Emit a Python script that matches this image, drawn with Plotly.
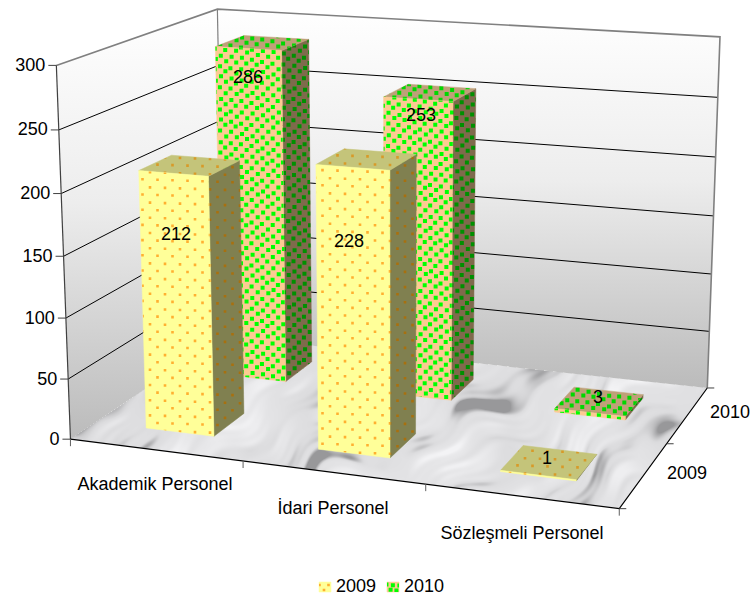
import base64, struct, zlib
import numpy as np
import plotly.graph_objects as go

# ---------- data ----------
categories = ["Akademik Personel", "İdari Personel", "Sözleşmeli Personel"]
series_names = ["2009", "2010"]
values_2009 = [212, 228, 1]
values_2010 = [286, 253, 3]
value_ticks = [0, 50, 100, 150, 200, 250, 300]

# hand placed data-label anchors in the reference (pixels)
label_x_2009 = [176, 349, 547]
label_y_2009 = [235, 242, 459]
label_x_2010 = [248, 421, 598]
label_y_2010 = [78, 116, 398]

W, H = 754, 599
FONT = "Liberation Sans"
FS = 18
BAR_LO, BAR_HI = 0.3, 0.7

# ---------- perspective: camera fitted to the frame corners of the chart ----------
frame_world = [(0, 0, 0), (0, 0, 300), (0, 2, 300), (0, 2, 0), (3, 2, 300), (3, 2, 0), (3, 0, 0)]
frame_pixel = [(72, 436), (55, 65.5), (219, 8), (222, 340), (719.5, 38), (708, 384), (619, 512)]
A, b = [], []
for (X, Y, Z), (u, v) in zip(frame_world, frame_pixel):
    Z = Z / 300
    A.append([X, Y, Z, 1, 0, 0, 0, 0, -u * X, -u * Y, -u * Z]); b.append(u)
    A.append([0, 0, 0, 0, X, Y, Z, 1, -v * X, -v * Y, -v * Z]); b.append(v)
P = np.append(np.linalg.lstsq(np.array(A, float), np.array(b, float), rcond=None)[0], 1).reshape(3, 4)


def proj(X, Y, Z):
    h = P @ np.array([X, Y, Z / 300, 1.0])
    return h[0] / h[2], h[1] / h[2]


def poly(points):
    xy = [proj(*p) for p in points]
    return [q[0] for q in xy], [q[1] for q in xy]


fig = go.Figure()


def text_trace(x, y, text, pos="middle center", size=FS):
    fig.add_trace(go.Scatter(x=[x], y=[y], text=[text], mode="text", textposition=pos,
                             textfont=dict(family=FONT, size=size, color="black"),
                             showlegend=False, hoverinfo="skip"))


def line(xs, ys, color="black", width=1):
    fig.add_trace(go.Scatter(x=xs, y=ys, mode="lines", line=dict(color=color, width=width),
                             showlegend=False, hoverinfo="skip"))


def wall(points):
    xs, ys = poly(points + [points[0]])
    fig.add_trace(go.Scatter(x=xs, y=ys, mode="lines", line=dict(width=0), fill="toself",
                             fillgradient=dict(type="vertical",
                                               colorscale=[[0, "#BBBBBB"], [0.55, "#EDEDED"], [1, "#FFFFFF"]]),
                             showlegend=False, hoverinfo="skip"))


def inside(xs, ys, px, py):
    """Convex polygon test, used for the floor texture mask."""
    n = len(xs)
    signs = []
    for i in range(n):
        x0, y0, x1, y1 = xs[i], ys[i], xs[(i + 1) % n], ys[(i + 1) % n]
        signs.append((x1 - x0) * (py - y0) - (y1 - y0) * (px - x0))
    signs = np.array(signs)
    return np.all(signs >= 0, axis=0) | np.all(signs <= 0, axis=0)


def clip_to(subject, xs, ys):
    """Sutherland-Hodgman clip of a small pattern cell against a convex face."""
    n = len(xs)
    area = sum(xs[i] * ys[(i + 1) % n] - xs[(i + 1) % n] * ys[i] for i in range(n))
    sgn = 1 if area > 0 else -1
    out = subject
    for i in range(n):
        ax, ay, bx, by = xs[i], ys[i], xs[(i + 1) % n], ys[(i + 1) % n]
        side = lambda p: sgn * ((bx - ax) * (p[1] - ay) - (by - ay) * (p[0] - ax))
        res = []
        for k, cur in enumerate(out):
            prev = out[k - 1]
            sc, sp = side(cur), side(prev)
            if (sc >= 0) != (sp >= 0):
                t = sp / (sp - sc)
                res.append((prev[0] + t * (cur[0] - prev[0]), prev[1] + t * (cur[1] - prev[1])))
            if sc >= 0:
                res.append(cur)
        out = res
        if not out:
            break
    return out


def pattern_cells(xs, ys, st):
    """Screen-space dot pattern, clipped to the face like a real pattern fill."""
    dx, dy, shear, wob, half = st["dx"], st["dy"], st["shear"], st["wobble"], st["size"] / 2
    px, py = [], []
    for i in range(int(min(xs) / dx) - 3, int(max(xs) / dx) + 3):
        offset = shear * i
        for j in range(int((min(ys) - offset) / dy) - 2, int((max(ys) - offset) / dy) + 3):
            cx = i * dx + (j % 2) * dx / 2 + wob * np.sin(j * 1.7 + i * 0.9)
            cy = j * dy + offset + wob * np.sin(j * 0.8 - i * 1.3)
            if cx < min(xs) - 4 or cx > max(xs) + 4 or cy < min(ys) - 4 or cy > max(ys) + 4:
                continue
            cell = clip_to([(cx - half, cy - half), (cx + half, cy - half),
                            (cx + half, cy + half), (cx - half, cy + half)], xs, ys)
            if len(cell) >= 3:
                px += [q[0] for q in cell] + [cell[0][0], None]
                py += [q[1] for q in cell] + [cell[0][1], None]
    return px, py


def face(xs, ys, fill, dot, style, name=None):
    fig.add_trace(go.Scatter(x=xs + xs[:1], y=ys + ys[:1], mode="lines", line=dict(width=0.5, color=fill),
                             fill="toself", fillcolor=fill, name=name, showlegend=False, hoverinfo="skip"))
    px, py = pattern_cells(xs, ys, style)
    if px:
        fig.add_trace(go.Scatter(x=px, y=py, mode="lines", line=dict(width=0), fill="toself", fillcolor=dot,
                                 hoverinfo="skip", showlegend=False))


STYLE_2009 = dict(front="#FFFF99", side="#808050", top="#C4C47A",
                  dot_front="#FFB030", dot_side="#A8700F", dot_top="#D89A28",
                  dx=15, dy=7.6, shear=0.5, wobble=0.0, size=2.6)
STYLE_2010 = dict(front="#FCCB92", side="#7F6A4C", top="#BFA078",
                  dot_front="#00FF00", dot_side="#009000", dot_top="#00D800",
                  dx=10.5, dy=5.4, shear=1.6, wobble=0.6, size=4.0)


def bar(cat, ser, val, s, name):
    x0, x1 = cat + BAR_LO, cat + BAR_HI
    y0, y1 = ser + BAR_LO, ser + BAR_HI
    xs, ys = poly([(x1, y0, 0), (x1, y1, 0), (x1, y1, val), (x1, y0, val)])
    face(xs, ys, s["side"], s["dot_side"], s)
    xs, ys = poly([(x0, y0, val), (x1, y0, val), (x1, y1, val), (x0, y1, val)])
    face(xs, ys, s["top"], s["dot_top"], s)
    xs, ys = poly([(x0, y0, 0), (x1, y0, 0), (x1, y0, val), (x0, y0, val)])
    face(xs, ys, s["front"], s["dot_front"], s, name)


# ---------- walls ----------
wall([(0, 0, 0), (0, 2, 0), (0, 2, 300), (0, 0, 300)])
wall([(0, 2, 0), (3, 2, 0), (3, 2, 300), (0, 2, 300)])

# ---------- gridlines ----------
for t in value_ticks[1:-1]:
    xs, ys = poly([(0, 0, t), (0, 2, t), (3, 2, t)])
    line(xs, ys, "#000000", 1)
xs, ys = poly([(0, 0, 300), (0, 2, 300), (3, 2, 300), (3, 2, 0)])
line(xs, ys, "#808080", 1.6)
xs, ys = poly([(0, 2, 300), (0, 2, 0)])
line(xs, ys, "#808080", 1.2)

# ---------- axes ----------
xs, ys = poly([(0, 0, 300), (0, 0, 0)])
line(xs, ys, "#404040", 1.2)
xs, ys = poly([(0, 0, 0), (3, 0, 0), (3, 2, 0)])
line(xs, ys, "#000000", 1.2)
for t in value_ticks:
    px, py = proj(0, 0, t)
    line([px - 8, px], [py, py], "#404040", 1)
    text_trace(px - 11, py + 1, str(t), "middle left")
for c in range(4):
    px, py = proj(c, 0, 0)
    line([px, px], [py, py + 7], "#606060", 1)
for s in range(3):
    px, py = proj(3, s, 0)
    line([px, px + 7], [py, py], "#404040", 1)

for name, cx, cy in zip(categories, [155, 333, 522], [485, 509, 534]):
    text_trace(cx, cy, name)
for name, cx, cy in zip(series_names, [687, 730], [474, 413]):
    text_trace(cx, cy, name)

# ---------- bars, painted from back to front ----------
for c, v in enumerate(values_2010):
    bar(c, 1, v, STYLE_2010, "2010")
for c, v in enumerate(values_2009):
    bar(c, 0, v, STYLE_2009, "2009")

# ---------- data labels ----------
for v, lx, ly in zip(values_2010 + values_2009, label_x_2010 + label_x_2009, label_y_2010 + label_y_2009):
    text_trace(lx, ly, str(v))

# ---------- legend ----------
for name, s, x0, tx in zip(series_names, [STYLE_2009, STYLE_2010], [319, 387], [336, 404]):
    xs, ys = [x0, x0 + 12, x0 + 12, x0], [582, 582, 592, 592]
    face(xs, ys, s["front"], s["dot_front"], dict(s, dx=9 if s is STYLE_2009 else 6, dy=5, shear=0), name)
    text_trace(tx, 587, name, "middle right")

# ---------- marble floor texture (deterministic sines, no data) ----------
gu, gv = np.meshgrid(np.arange(W) + 0.5, np.arange(H) + 0.5)
fx, fy = poly([(0, 0, 0), (3, 0, 0), (3, 2, 0), (0, 2, 0)])
mask = inside(fx, fy, gu, gv)
across = gu * 0.45 + gv * 0.89      # perpendicular to the up-right streaks
along = gu * 0.89 - gv * 0.45
warp = 16 * np.sin(along * 0.017 + 0.6) + 10 * np.sin(along * 0.041 + across * 0.015 + 2.3) \
    + 5 * np.sin(along * 0.09 - across * 0.03 + 4.4)
c = across + warp
streak = (np.sin(c * 0.047 + 0.4) + 0.9 * np.sin(c * 0.097 + along * 0.006 + 1.9)
          + 0.8 * np.sin(c * 0.19 + along * 0.013 + 3.1) + 0.55 * np.sin(c * 0.33 - along * 0.019 + 0.8)
          + 0.3 * np.sin(c * 0.61 + along * 0.025 + 2.2))
cloud = np.sin(along * 0.027 + across * 0.02 + 1.1) + 0.7 * np.sin(along * 0.061 - across * 0.03 + 4.2)
patch = np.clip(0.55 + 0.28 * (np.sin(along * 0.033 + across * 0.041 + 1.0)
                               + np.sin(along * 0.079 - across * 0.058 + 3.0)
                               + 0.6 * np.sin(along * 0.15 + across * 0.11 + 5.0)), 0.05, 1)
n = streak / 3.55 * patch + 0.18 * cloud / 1.7
soft = np.clip((n + 0.6) / 1.2, 0, 1)
spots = np.clip((n - 0.15) / 0.45, 0, 1) ** 1.4
shade = 243 - 36 * soft - 55 * spots
rgba = np.zeros((H, W, 4), dtype=np.uint8)
rgba[..., 0] = np.clip(shade, 0, 255)
rgba[..., 1] = np.clip(shade, 0, 255)
rgba[..., 2] = np.clip(shade + 2, 0, 255)
rgba[..., 3] = mask * 255


def png_uri(arr):
    def chunk(tag, data):
        return struct.pack(">I", len(data)) + tag + data + struct.pack(">I", zlib.crc32(tag + data))
    raw = b"".join(b"\x00" + row.tobytes() for row in arr)
    png = (b"\x89PNG\r\n\x1a\n" + chunk(b"IHDR", struct.pack(">IIBBBBB", arr.shape[1], arr.shape[0], 8, 6, 0, 0, 0))
           + chunk(b"IDAT", zlib.compress(raw, 9)) + chunk(b"IEND", b""))
    return "data:image/png;base64," + base64.b64encode(png).decode()


fig.update_layout(
    width=W, height=H, margin=dict(l=0, r=0, t=0, b=0), showlegend=False,
    paper_bgcolor="white", plot_bgcolor="rgba(0,0,0,0)",
    xaxis=dict(range=[0, W], visible=False, fixedrange=True),
    yaxis=dict(range=[H, 0], visible=False, fixedrange=True),
    images=[dict(source=png_uri(rgba), xref="paper", yref="paper", x=0, y=1, sizex=1, sizey=1,
                 xanchor="left", yanchor="top", sizing="stretch", layer="below")],
)
fig.write_html("out.html", config=dict(displayModeBar=False),
               post_script="document.body.style.margin='0';")
